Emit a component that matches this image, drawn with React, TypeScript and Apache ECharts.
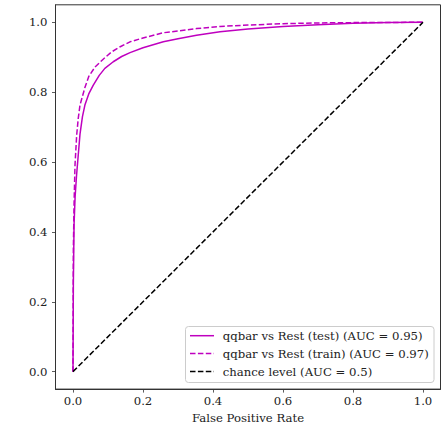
import React, { useEffect, useRef } from "react";
import * as echarts from "echarts";

const testFpr = [0, 0.001, 0.003, 0.006, 0.01, 0.015, 0.02, 0.027, 0.034, 0.045, 0.058, 0.075, 0.091, 0.115, 0.139, 0.163, 0.2, 0.258, 0.3, 0.353, 0.42, 0.5, 0.6, 0.7, 0.8, 0.9, 1.0];
const testTpr = [0, 0.25, 0.42, 0.5, 0.56, 0.62, 0.68, 0.73, 0.763, 0.795, 0.82, 0.848, 0.868, 0.887, 0.902, 0.913, 0.927, 0.944, 0.953, 0.963, 0.973, 0.981, 0.988, 0.993, 0.997, 0.999, 1.0];

const trainFpr = [0, 0.001, 0.003, 0.0057, 0.0105, 0.015, 0.02, 0.034, 0.045, 0.063, 0.087, 0.11, 0.135, 0.163, 0.2, 0.258, 0.3, 0.353, 0.42, 0.5, 0.6, 0.7, 0.8, 1.0];
const trainTpr = [0, 0.35, 0.477, 0.591, 0.677, 0.725, 0.763, 0.813, 0.845, 0.872, 0.895, 0.915, 0.93, 0.944, 0.955, 0.97, 0.975, 0.982, 0.988, 0.992, 0.996, 0.998, 0.999, 1.0];

const chanceFpr = [0, 1];
const chanceTpr = [0, 1];

const seriesNames = [
  "qqbar vs Rest (test) (AUC = 0.95)",
  "qqbar vs Rest (train) (AUC = 0.97)",
  "chance level (AUC = 0.5)",
];

const tickValues = [0, 0.2, 0.4, 0.6, 0.8, 1.0];

const pairs = (xs: number[], ys: number[]) => xs.map((x, i) => [x, ys[i]]);

const FONT = '"DejaVu Serif", serif';
const FS = 11.7;
const MAGENTA = "#bf00bf";
const DASH = [5.5, 2.4];

function buildOption() {
  const axisCommon = {
    type: "value",
    min: -0.05,
    max: 1.05,
    splitLine: { show: false },
    axisLine: { show: true, onZero: false, lineStyle: { color: "#333", width: 1 } },
    axisTick: {
      show: true,
      inside: false,
      length: 3.5,
      customValues: tickValues,
      lineStyle: { color: "#333", width: 0.8 },
    },
  };
  const legendStyles = [
    { stroke: MAGENTA, lineDash: null },
    { stroke: MAGENTA, lineDash: DASH },
    { stroke: "#000", lineDash: DASH },
  ];
  const rowY = [335.7, 353.5, 371.5];
  const legendChildren: any[] = [
    {
      type: "rect",
      shape: { x: 185.5, y: 326.5, width: 248.5, height: 56, r: 3 },
      style: { fill: "rgba(255,255,255,0.8)", stroke: "#ccc", lineWidth: 1 },
    },
  ];
  seriesNames.forEach((name, i) => {
    legendChildren.push({
      type: "line",
      shape: { x1: 190, y1: rowY[i], x2: 214, y2: rowY[i] },
      style: { stroke: legendStyles[i].stroke, lineWidth: 1.5, lineDash: legendStyles[i].lineDash },
    });
    legendChildren.push({
      type: "text",
      x: 222.7,
      y: rowY[i],
      style: {
        text: name,
        fontFamily: FONT,
        fontSize: FS,
        fill: "#222",
        verticalAlign: "middle",
        align: "left",
      },
    });
  });
  return {
    animation: false,
    textStyle: { fontFamily: FONT },
    grid: {
      left: 55.5,
      right: 2.5,
      top: 4.8,
      bottom: 39.5,
      show: true,
      borderColor: "#333",
      borderWidth: 1,
      backgroundColor: "#fff",
    },
    xAxis: {
      ...axisCommon,
      position: "bottom",
      name: "False Positive Rate",
      nameLocation: "middle",
      nameGap: 21,
      nameTextStyle: { fontFamily: FONT, fontSize: FS, color: "#222" },
      axisLabel: {
        customValues: tickValues,
        formatter: (v: number) => v.toFixed(1),
        fontFamily: FONT,
        fontSize: FS,
        color: "#222",
        margin: 6,
      },
    },
    yAxis: {
      ...axisCommon,
      position: "left",
      axisLabel: {
        customValues: tickValues,
        formatter: (v: number) => v.toFixed(1),
        fontFamily: FONT,
        fontSize: FS,
        color: "#222",
        margin: 8,
      },
    },
    graphic: [{ type: "group", z: 100, children: legendChildren }],
    series: [
      {
        name: seriesNames[0],
        type: "line",
        data: pairs(testFpr, testTpr),
        symbol: "none",
        showSymbol: false,
        color: MAGENTA,
        lineStyle: { color: MAGENTA, width: 1.5 },
      },
      {
        name: seriesNames[1],
        type: "line",
        data: pairs(trainFpr, trainTpr),
        symbol: "none",
        showSymbol: false,
        color: MAGENTA,
        lineStyle: { color: MAGENTA, width: 1.5, type: DASH },
      },
      {
        name: seriesNames[2],
        type: "line",
        data: pairs(chanceFpr, chanceTpr),
        symbol: "none",
        showSymbol: false,
        color: "#000",
        lineStyle: { color: "#000", width: 1.5, type: DASH },
      },
    ],
  };
}

export default function App() {
  const ref = useRef<HTMLDivElement>(null);
  useEffect(() => {
    if (!ref.current) return;
    const chart = echarts.init(ref.current, null, { renderer: "svg" });
    chart.setOption(buildOption() as any);
    let disposed = false;
    const rerender = () => {
      if (disposed) return;
      chart.clear();
      chart.setOption(buildOption() as any);
    };
    try {
      const fontsApi = (document as any).fonts;
      if (fontsApi && fontsApi.load) {
        fontsApi.load('12px "DejaVu Serif"').then(rerender, rerender);
      }
    } catch (e) {
      /* ignore */
    }
    return () => {
      disposed = true;
      chart.dispose();
    };
  }, []);
  return (
    <div
      ref={ref}
      style={{ position: "absolute", left: 0, top: 0, width: 443, height: 429, fontFamily: '"DejaVu Serif", serif' }}
    />
  );
}
